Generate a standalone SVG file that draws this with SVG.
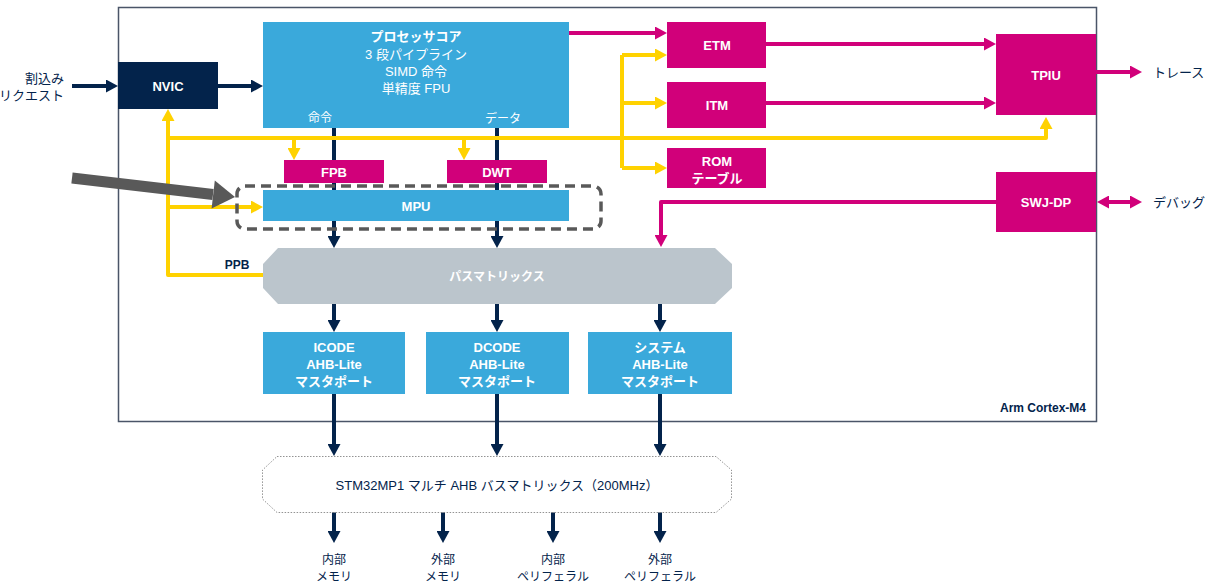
<svg xmlns="http://www.w3.org/2000/svg" width="1208" height="587" viewBox="0 0 1208 587">
<style>
text{font-family:"Liberation Sans","Noto Sans CJK JP",sans-serif;}
.w{fill:#fff;font-size:13px;text-anchor:middle}
.b{font-weight:bold}
.n{fill:#03234B;font-size:13px}
.c{text-anchor:middle}
.blue{fill:#3AA9DB}
.mag{fill:#D1007A}
.navy{stroke:#03234B;stroke-width:4;fill:none}
.magl{stroke:#D1007A;stroke-width:4;fill:none}
.yel{stroke:#FFD200;stroke-width:4;fill:none;stroke-linejoin:round}
</style>
<defs>
<marker id="an" markerUnits="userSpaceOnUse" markerWidth="12" markerHeight="13" refX="8" refY="6.5" orient="auto"><path d="M0,0L12,6.5L0,13z" fill="#03234B"/></marker>
<marker id="am" markerUnits="userSpaceOnUse" markerWidth="12" markerHeight="13" refX="8" refY="6.5" orient="auto"><path d="M0,0L12,6.5L0,13z" fill="#D1007A"/></marker>
<marker id="ams" markerUnits="userSpaceOnUse" markerWidth="12" markerHeight="13" refX="4" refY="6.5" orient="auto"><path d="M12,0L0,6.5L12,13z" fill="#D1007A"/></marker>
<marker id="ay" markerUnits="userSpaceOnUse" markerWidth="12" markerHeight="13" refX="8" refY="6.5" orient="auto"><path d="M0,0L12,6.5L0,13z" fill="#FFD200"/></marker>
</defs>
<rect width="1208" height="587" fill="#fff"/>
<g id="cortex"><rect x="118.5" y="7.5" width="978" height="414" fill="none" stroke="#4A5568" stroke-width="1.5"/>
<text x="1086" y="412" class="n b" style="font-size:12px;text-anchor:end">Arm Cortex-M4</text></g>

<g id="connectors">
<path class="navy" marker-end="url(#an)" d="M72,86H114"/>
<path class="navy" marker-end="url(#an)" d="M218,86H259"/>
<path class="navy" marker-end="url(#an)" d="M334,128V244"/>
<path class="navy" marker-end="url(#an)" d="M497,128V244"/>
<path class="navy" marker-end="url(#an)" d="M334,303V328"/>
<path class="navy" marker-end="url(#an)" d="M497,303V328"/>
<path class="navy" marker-end="url(#an)" d="M660,303V328"/>
<path class="navy" marker-end="url(#an)" d="M334,394V452"/>
<path class="navy" marker-end="url(#an)" d="M497,394V452"/>
<path class="navy" marker-end="url(#an)" d="M660,394V452"/>
<path class="navy" marker-end="url(#an)" d="M334,512V539"/>
<path class="navy" marker-end="url(#an)" d="M443,512V539"/>
<path class="navy" marker-end="url(#an)" d="M553,512V539"/>
<path class="navy" marker-end="url(#an)" d="M660,512V539"/>
<path class="magl" marker-end="url(#am)" d="M569,33H663"/>
<path class="magl" marker-end="url(#am)" d="M766,44H992"/>
<path class="magl" marker-end="url(#am)" d="M766,103H992"/>
<path class="magl" marker-end="url(#am)" d="M1096,72H1138"/>
<path class="magl" marker-start="url(#ams)" marker-end="url(#am)" d="M1101,202H1138"/>
<path class="magl" marker-end="url(#am)" d="M996,202H661V243" stroke-linejoin="round"/>
<path class="yel" marker-end="url(#ay)" d="M263,275H168V113"/>
<path class="yel" marker-end="url(#ay)" d="M168,138H1046V121"/>
<path class="yel" marker-end="url(#ay)" d="M294,138V156"/>
<path class="yel" marker-end="url(#ay)" d="M464,138V156"/>
<path class="yel" marker-end="url(#ay)" d="M168,207H259"/>
<path class="yel" d="M622,55V168"/>
<path class="yel" marker-end="url(#ay)" d="M622,55H663"/>
<path class="yel" marker-end="url(#ay)" d="M622,103H663"/>
<path class="yel" marker-end="url(#ay)" d="M622,168H663"/>
</g>

<g id="irq"><text x="64" y="83" class="n" style="text-anchor:end">割込み</text><text x="64" y="100" class="n" style="text-anchor:end">リクエスト</text></g>
<g id="nvic"><rect x="118" y="62" width="100" height="47" fill="#03234B"/><text x="168" y="91" class="w b">NVIC</text></g>
<g id="core"><rect x="263" y="22" width="306" height="106" class="blue"/>
<text x="416" y="41" class="w b">プロセッサコア</text>
<text x="416" y="59" class="w">3 段パイプライン</text>
<text x="416" y="76" class="w">SIMD 命令</text>
<text x="416" y="93" class="w">単精度 FPU</text>
<text x="320" y="122" class="w" style="font-size:12px">命令</text>
<text x="503" y="123" class="w" style="font-size:12px">データ</text></g>
<g id="fpb"><rect x="284" y="160" width="100" height="23" class="mag"/><text x="334" y="177" class="w b">FPB</text></g>
<g id="dwt"><rect x="447" y="160" width="100" height="23" class="mag"/><text x="497" y="177" class="w b">DWT</text></g>
<g id="mpu"><rect x="263" y="190" width="306" height="31" class="blue"/><text x="416" y="211" class="w b">MPU</text>
<rect x="237" y="186" width="364" height="43" rx="8" fill="none" stroke="#595959" stroke-width="3.5" stroke-dasharray="10,6"/></g>
<g id="pointer"><path d="M72,178L213,194.5" stroke="#595959" stroke-width="11"/><path d="M235,197L211.6,208.4L214.8,180.6z" fill="#595959"/></g>
<g id="etm"><rect x="667" y="22" width="99" height="46" class="mag"/><text x="717" y="50" class="w b">ETM</text></g>
<g id="itm"><rect x="667" y="82" width="99" height="46" class="mag"/><text x="717" y="110" class="w b">ITM</text></g>
<g id="rom"><rect x="667" y="148" width="99" height="40" class="mag"/><text x="717" y="166" class="w b">ROM</text><text x="717" y="183" class="w b">テーブル</text></g>
<g id="tpiu"><rect x="996" y="34" width="100" height="81" class="mag"/><text x="1046" y="80" class="w b">TPIU</text></g>
<g id="swjdp"><rect x="996" y="172" width="100" height="60" class="mag"/><text x="1046" y="207" class="w b">SWJ-DP</text></g>
<g id="trace"><text x="1153" y="77" class="n">トレース</text></g>
<g id="debug"><text x="1153" y="207" class="n">デバッグ</text></g>
<g id="busmatrix"><path d="M278,248H715L732,264V288L715,304H278L263,288V264z" fill="#BBC5CC"/><text x="497" y="281" class="w b" style="font-size:12px">パスマトリックス</text></g>
<g id="ppb"><text x="237" y="269" class="n b c" style="font-size:12px">PPB</text></g>
<g id="icode"><rect x="263" y="332" width="142" height="62" class="blue"/><text x="334" y="352" class="w b">ICODE</text><text x="334" y="369" class="w b">AHB-Lite</text><text x="334" y="386" class="w b">マスタポート</text></g>
<g id="dcode"><rect x="426" y="332" width="143" height="62" class="blue"/><text x="497" y="352" class="w b">DCODE</text><text x="497" y="369" class="w b">AHB-Lite</text><text x="497" y="386" class="w b">マスタポート</text></g>
<g id="system"><rect x="588" y="332" width="144" height="62" class="blue"/><text x="660" y="352" class="w b">システム</text><text x="660" y="369" class="w b">AHB-Lite</text><text x="660" y="386" class="w b">マスタポート</text></g>
<g id="stm32matrix"><path d="M277,456.5H716L731.5,470V499L716,512.5H277L262.5,499V470z" fill="#fff" stroke="#777" stroke-width="0.8" stroke-dasharray="1.5,1.5"/><text x="497" y="490" class="n c">STM32MP1 マルチ AHB バスマトリックス（200MHz）</text></g>
<g id="intmem"><text x="334" y="564" class="n c" style="font-size:12px">内部</text><text x="334" y="581" class="n c" style="font-size:12px">メモリ</text></g>
<g id="extmem"><text x="443" y="564" class="n c" style="font-size:12px">外部</text><text x="443" y="581" class="n c" style="font-size:12px">メモリ</text></g>
<g id="intper"><text x="553" y="564" class="n c" style="font-size:12px">内部</text><text x="553" y="581" class="n c" style="font-size:12px">ペリフェラル</text></g>
<g id="extper"><text x="660" y="564" class="n c" style="font-size:12px">外部</text><text x="660" y="581" class="n c" style="font-size:12px">ペリフェラル</text></g>
</svg>
